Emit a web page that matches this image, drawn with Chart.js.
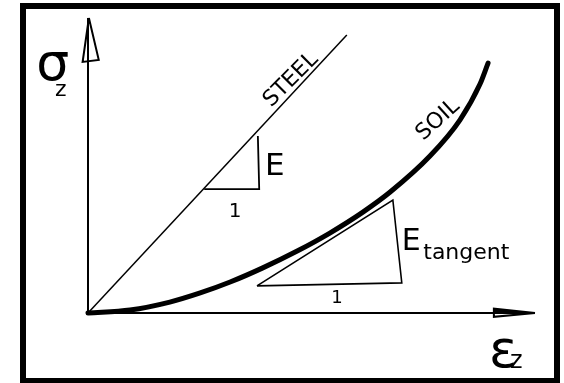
<!DOCTYPE html>
<html>
<head>
<meta charset="utf-8">
<script src="https://cdn.jsdelivr.net/npm/chart.js@4.4.1/dist/chart.umd.min.js"></script>
<style>
  html, body { margin: 0; padding: 0; background: #fff; }
  #frame { position: absolute; left: 20px; top: 3px; width: 528px; height: 369px; border: 6px solid #000; }
  #chart { position: absolute; left: 0; top: 0; }
</style>
</head>
<body>
<div id="frame"></div>
<canvas id="chart" width="564" height="383"></canvas>
<script>
// strain (x) / stress (y), arbitrary units, axes run 0..10
const steelX = [0, 5.79];
const steelY = [0, 9.42];

const soilX = [0, 0.94, 1.83, 2.51, 3.18, 3.91, 4.68, 5.41, 6.15, 6.76, 7.65, 8.32, 8.77, 8.95];
const soilY = [0, 0.10, 0.37, 0.68, 1.05, 1.53, 2.10, 2.71, 3.42, 4.10, 5.32, 6.54, 7.76, 8.47];

// slope triangles
const steelTriX = [2.60, 3.83, 3.80];
const steelTriY = [4.20, 4.20, 6.00];
const tangentTriX = [3.78, 7.02, 6.82, 3.78];
const tangentTriY = [0.92, 1.02, 3.83, 0.92];

// axes and arrow heads
const yAxisX = [0, 0];
const yAxisY = [0, 10];
const xAxisX = [0, 10];
const xAxisY = [0, 0];
const yArrowX = [0.02, -0.12, 0.24, 0.02];
const yArrowY = [10, 8.51, 8.58, 10];
const xArrowX = [10, 9.08, 9.08, 10];
const xArrowY = [0, 0.15, -0.13, 0];

// text
const labelTexts = ['σ', 'z', 'STEEL', 'SOIL', 'E', '1', 'E', 'tangent', '1', 'ε', 'z'];

const pts = (xs, ys) => xs.map((x, i) => ({x, y: ys[i]}));

function line(data, width, extra) {
  return Object.assign({
    data, borderColor: '#000', borderWidth: width, pointRadius: 0,
    tension: 0, fill: false, clip: false
  }, extra || {});
}

const textPlugin = {
  id: 'sketchText',
  afterDatasetsDraw(chart) {
    const {ctx, scales: {x, y}} = chart;
    // [index into labelTexts, x, y, size, rotation deg, align]
    const spots = [
      [0, -1.16, 7.90, 52, 0, 'left'],
      [1, -0.74, 7.36, 22, 0, 'left'],
      [2, 4.54, 7.90, 22, -45, 'center'],
      [3, 7.83, 6.54, 22, -42, 'center'],
      [4, 3.96, 4.68, 31, 0, 'left'],
      [5, 3.29, 3.25, 20, 0, 'center'],
      [6, 7.02, 2.14, 30, 0, 'left'],
      [7, 7.50, 1.83, 22, 0, 'left'],
      [8, 5.57, 0.34, 18, 0, 'center'],
      [9, 8.97, -1.83, 52, 0, 'left'],
      [10, 9.44, -1.86, 24, 0, 'left']
    ];
    ctx.save();
    ctx.fillStyle = '#000';
    spots.forEach(([i, dx, dy, size, rot, align]) => {
      ctx.save();
      ctx.translate(x.getPixelForValue(dx), y.getPixelForValue(dy));
      ctx.rotate(rot * Math.PI / 180);
      ctx.font = size + 'px "DejaVu Sans"';
      ctx.textAlign = align;
      ctx.textBaseline = rot ? 'middle' : 'alphabetic';
      ctx.fillText(labelTexts[i], 0, 0);
      ctx.restore();
    });
    ctx.restore();
  }
};

new Chart(document.getElementById('chart'), {
  type: 'line',
  data: {
    datasets: [
      line(pts(yAxisX, yAxisY), 2),
      line(pts(xAxisX, xAxisY), 2),
      line(pts(yArrowX, yArrowY), 2, {fill: 'shape', backgroundColor: '#fff'}),
      line(pts(xArrowX, xArrowY), 2, {fill: 'shape', backgroundColor: '#000'}),
      line(pts(steelX, steelY), 1.5),
      line(pts(steelTriX, steelTriY), 1.8),
      line(pts(tangentTriX, tangentTriY), 1.6),
      line(pts(soilX, soilY), 5, {cubicInterpolationMode: 'monotone', borderCapStyle: 'round'})
    ]
  },
  options: {
    responsive: false,
    animation: false,
    layout: {padding: {left: 88, right: 29, top: 18, bottom: 70}},
    scales: {
      x: {type: 'linear', min: 0, max: 10, display: false},
      y: {type: 'linear', min: 0, max: 10, display: false}
    },
    plugins: {legend: {display: false}, tooltip: {enabled: false}}
  },
  plugins: [textPlugin]
});
</script>
</body>
</html>
